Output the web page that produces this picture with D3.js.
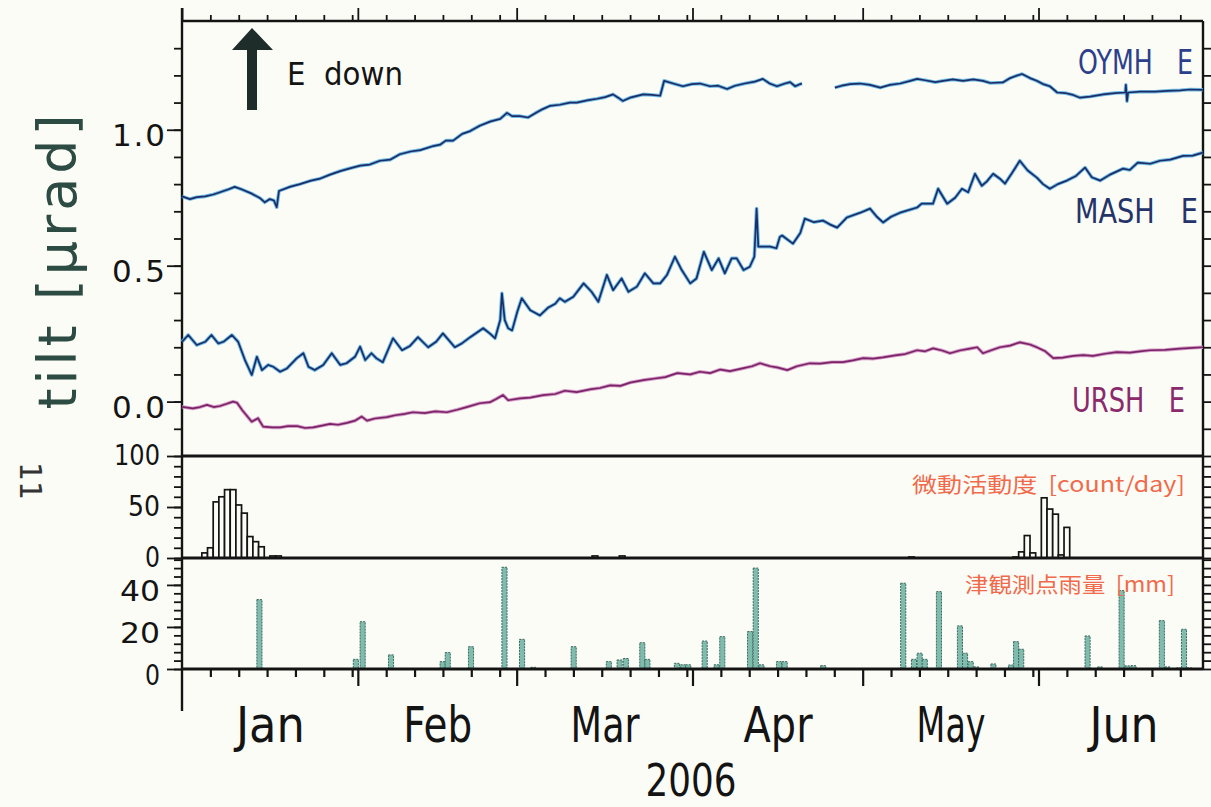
<!DOCTYPE html>
<html><head><meta charset="utf-8">
<script src="https://cdn.jsdelivr.net/npm/d3@7"></script>
<style>
html,body{margin:0;padding:0;background:#fcfcf6;}
svg{display:block;}
</style></head><body>
<svg id="chart" width="1211" height="807"></svg>
<script>
// ---------- data (day offsets from 2006-01-01 00:00 UTC) ----------
const oymhDays = [0,1.4,2.6,4.1,5.5,6.7,8.1,9.3,10.6,12.3,13.8,14.6,15.5,16.2,16.7,17.1,19.0,20.8,22.6,24.3,26.1,27.9,29.6,31.4,33.1,34.9,36.7,38.4,40.3,42.0,44.3,45.5,46.5,47.8,49.4,50.8,52.5,54.3,56.1,57.3,58.2,59.6,61.0,62.2,63.5,64.9,66.6,68.4,69.6,71.4,73.2,74.6,76.0,76.9,77.7,79.0,81.3,82.9,84.3,85.0,86.6,88.3,89.9,91.3,93.1,94.5,96.1,97.5,99.2,101.0,102.4,103.6,104.9,106.3,107.2,108.1,109.0,109.3,112,115.1,116.3,117.8,119.5,121.3,123.1,124.8,126.6,128.4,129.6,131.0,132.8,134.2,135.9,137.7,139.5,141.2,142.5,144.7,146.0,147.0,148.1,149.5,150.7,151.8,153.0,154.3,155.7,157.1,158.3,160.1,162.4,164.5,166.3,166.4,166.6,166.8,168.9,171.5,173.7,176.0,177.7,180];
const oymhVals = [0.755,0.745,0.752,0.755,0.762,0.77,0.78,0.79,0.78,0.765,0.748,0.733,0.745,0.74,0.715,0.775,0.79,0.80,0.812,0.82,0.835,0.848,0.858,0.868,0.872,0.886,0.89,0.91,0.92,0.925,0.94,0.945,0.96,0.96,0.985,0.995,1.015,1.03,1.04,1.062,1.05,1.05,1.045,1.06,1.075,1.088,1.092,1.10,1.10,1.108,1.114,1.12,1.13,1.118,1.106,1.118,1.13,1.128,1.125,1.18,1.17,1.16,1.168,1.17,1.16,1.162,1.15,1.162,1.17,1.177,1.187,1.17,1.16,1.17,1.175,1.16,1.168,1.17,null,1.155,1.162,1.168,1.17,1.165,1.155,1.165,1.17,1.18,1.187,1.182,1.175,1.18,1.185,1.18,1.185,1.18,1.172,1.174,1.19,1.198,1.205,1.19,1.18,1.168,1.16,1.137,1.135,1.128,1.118,1.122,1.13,1.135,1.137,1.165,1.105,1.137,1.14,1.14,1.143,1.145,1.148,1.147];

const mashDays = [0,1.1,2.6,4.1,5.2,6.4,7.3,8.8,9.9,11.1,12.3,13.2,14.1,15.2,16.1,17.3,18.5,20.2,21.4,22.3,23.4,24.9,26.4,27.9,29.0,30.5,31.4,32.3,33.4,34.3,35.4,37.2,38.8,40.2,41.6,43.4,44.8,46.0,48.1,49.4,50.8,53.1,54.3,55.2,56.1,56.4,56.9,57.5,58.2,59.1,59.9,61.4,62.4,63.1,64.5,65.8,66.6,67.5,69.0,70.8,72.2,73.4,74.9,76.0,77.5,78.7,80.2,81.6,83.1,84.3,85.5,86.9,88.1,89.6,90.7,92.0,93.4,94.6,95.7,96.9,97.8,99.0,100.1,100.9,101.3,101.6,103.7,104.8,105.4,105.8,107.7,109.0,109.8,111.4,113.0,114.2,115.5,117.2,119.6,121.3,122.5,123.6,125.0,126.6,129.6,130.4,132.4,133.3,134.9,136.3,137.5,138.6,139.8,141.0,141.9,143.0,144.2,145.1,146.3,147.7,149.1,150.7,151.8,153.0,154.4,156.0,157.6,159.2,160.4,161.9,163.6,165.9,167.1,168.5,170.7,172.4,174.2,176.5,178.2,180];
const mashVals = [0.22,0.245,0.208,0.22,0.245,0.214,0.22,0.245,0.22,0.153,0.098,0.165,0.116,0.135,0.128,0.11,0.122,0.159,0.178,0.128,0.116,0.135,0.178,0.135,0.141,0.165,0.202,0.153,0.178,0.159,0.145,0.233,0.189,0.205,0.237,0.2,0.22,0.251,0.2,0.215,0.237,0.27,0.25,0.233,0.30,0.398,0.30,0.27,0.262,0.33,0.38,0.336,0.325,0.317,0.345,0.36,0.38,0.367,0.386,0.435,0.404,0.367,0.466,0.41,0.453,0.404,0.423,0.472,0.435,0.435,0.466,0.533,0.484,0.435,0.453,0.551,0.484,0.527,0.472,0.527,0.527,0.484,0.496,0.533,0.71,0.57,0.57,0.564,0.606,0.611,0.581,0.62,0.673,0.66,0.666,0.652,0.64,0.677,0.695,0.71,0.68,0.659,0.68,0.695,0.714,0.728,0.728,0.783,0.728,0.75,0.783,0.77,0.838,0.794,0.81,0.838,0.82,0.802,0.84,0.886,0.85,0.824,0.80,0.783,0.80,0.813,0.83,0.861,0.825,0.813,0.835,0.857,0.852,0.879,0.875,0.886,0.89,0.904,0.905,0.916];

const urshDays = [0,1.9,3.2,4.4,5.6,6.7,7.9,9.0,9.7,10.6,12.3,13.4,14.3,15.9,17.3,18.7,20.3,21.7,23.1,24.7,26.1,27.5,29.1,30.5,31.7,32.6,34.0,36.1,37.6,39.3,40.7,42.8,44.6,46.7,48.5,50.2,52.5,54.3,55.4,56.6,57.5,59.6,61.4,63.7,65.8,67.5,69.6,71.9,73.7,75.5,77.3,79.0,81.3,83.4,85.2,87.3,89.6,91.3,93.1,94.9,96.6,99.0,100.5,101.9,103.7,105.1,106.7,108.4,110.7,112.5,114.6,116.5,118.3,120.1,121.8,123.6,125.7,127.5,129.6,131.0,132.4,134.0,135.4,137.1,138.9,140.2,141.2,142.8,144.2,146.0,147.7,149.5,150.7,152.2,153.6,155.3,157.1,158.9,160.6,162.7,164.8,167.1,168.9,170.7,173.3,176.0,178.2,180];
const urshVals = [-0.019,-0.025,-0.02,-0.012,-0.02,-0.016,-0.008,0.0,-0.004,-0.031,-0.074,-0.061,-0.092,-0.095,-0.095,-0.09,-0.09,-0.097,-0.095,-0.088,-0.082,-0.085,-0.078,-0.07,-0.055,-0.07,-0.062,-0.057,-0.05,-0.045,-0.039,-0.042,-0.036,-0.039,-0.03,-0.02,-0.006,-0.002,0.01,0.024,0.005,0.012,0.015,0.024,0.028,0.04,0.035,0.045,0.05,0.06,0.058,0.07,0.079,0.085,0.09,0.105,0.1,0.11,0.105,0.118,0.112,0.123,0.13,0.141,0.13,0.125,0.116,0.13,0.141,0.14,0.145,0.145,0.152,0.16,0.158,0.163,0.17,0.175,0.189,0.185,0.196,0.188,0.178,0.188,0.195,0.2,0.178,0.19,0.2,0.206,0.218,0.21,0.2,0.185,0.16,0.162,0.168,0.171,0.168,0.176,0.182,0.18,0.185,0.189,0.19,0.195,0.198,0.2];

const tremorDays = [3.5,4.5,5.5,6.5,7.5,8.5,9.5,10.5,11.5,12.5,13.5,15.5,16.5,72.3,77.1,128.1,146.5,147.5,148.5,149.5,151.5,152.5,153.5,154.5,155.5];
const tremorCounts = [5,10,55,60,67,67,52,44,21,16,11,2,2,2,2,1,1,6,22,5,59,48,43,3,30];

const rainDays = [13.2,30.2,31.4,36.4,45.5,46.4,50.5,56.4,59.5,61.5,68.6,74.8,76.7,77.8,80.7,81.6,86.8,87.9,88.8,91.7,93.8,94.8,99.7,100.7,101.7,104.8,105.8,112.6,126.7,128.6,129.6,130.5,133,136.7,137.6,138.6,139.6,142.6,145.7,146.6,147.5,159.2,161.4,165.2,166.2,167.3,172.3,173.3,175.3,176.2,177.2];
const rainMm = [33,4.6,22.5,6.7,3.5,7.8,10.6,48.4,14.1,0.8,10.6,3.5,4.3,5,12.5,4.6,2.7,2,2,13.3,2,15.4,17.8,48,2,3.5,3.5,1.6,40.8,4.6,7.5,4.6,36.8,20.5,7.5,3.5,1,2.4,1.9,13,9.4,15.7,1,37.3,1.5,1.6,23,1,0.5,18.9,0.5];

const monthLabels = ["Jan","Feb","Mar","Apr","May","Jun"];
const tiltTickLabels = [0.0,0.5,1.0];
const countTickLabels = [0,50,100];
const rainTickLabels = [0,20,40];
const seriesNames = ["OYMH","MASH","URSH"];

// ---------- layout ----------
const START = Date.UTC(2006,0,1);
const toDate = d => new Date(START + d*864e5);
const L=182, R=1203, T=21;
const yTiltB=456, yMidB=558, yRainB=669;
const FONT = "'DejaVu Sans','Liberation Sans',Arial,sans-serif";
const CJK = "'Noto Sans CJK JP','Noto Sans CJK SC',sans-serif";
const INK = "#141414";

const svg = d3.select("#chart");
svg.append("rect").attr("width",1211).attr("height",807).attr("fill","#fcfcf6");

const x = d3.scaleUtc().domain([toDate(0), toDate(180)]).range([L,R]);
const yT = d3.scaleLinear().domain([-0.2,1.4]).range([yTiltB,T]);
const yM = d3.scaleLinear().domain([0,100]).range([yMidB,yTiltB]);
const yR = d3.scaleLinear().domain([0,52.8]).range([yRainB,yMidB]);

// condensed text: measured and squeezed horizontally with a transform
function condensed(txt, xx, yy, size, width, fill, family, anchor){
  const t = svg.append("text").attr("font-family",family).attr("font-size",size).attr("fill",fill)
    .attr("xml:space","preserve").style("white-space","pre").text(txt);
  const w = t.node().getComputedTextLength();
  const x0 = anchor==="middle" ? xx - width/2 : xx;
  t.attr("transform",`translate(${x0},${yy}) scale(${width/w},1)`);
  return t;
}

// x ticks
const monthStarts = d3.utcMonth.range(toDate(0), toDate(180.5));
const minorX = [];
monthStarts.forEach(m => {
  [6,11,16,21,26,31].forEach(dd => {
    const t = new Date(Date.UTC(2006, m.getUTCMonth(), dd));
    if (t.getUTCMonth()===m.getUTCMonth() && t < toDate(180)) minorX.push(t);
  });
});
const midMonths = monthStarts.map(m => new Date((+m + +d3.utcMonth.offset(m,1))/2));

function styleAxis(g, w){
  g.select(".domain").remove();
  g.selectAll(".tick line").attr("stroke",INK).attr("stroke-width",w||1.8);
}
// top axis
svg.append("g").attr("transform",`translate(0,${T})`)
  .call(d3.axisTop(x).tickValues(minorX).tickSize(6).tickFormat(""))
  .call(g=>styleAxis(g));
svg.append("g").attr("transform",`translate(0,${T})`)
  .call(d3.axisTop(x).tickValues(monthStarts).tickSize(13).tickFormat(""))
  .call(g=>styleAxis(g));
// bottom axis
svg.append("g").attr("transform",`translate(0,${yRainB})`)
  .call(d3.axisBottom(x).tickValues(minorX).tickSize(8).tickFormat(""))
  .call(g=>styleAxis(g,2.2));
svg.append("g").attr("transform",`translate(0,${yRainB})`)
  .call(d3.axisBottom(x).tickValues(monthStarts.slice(1)).tickSize(17).tickFormat(""))
  .call(g=>styleAxis(g,2.2));
// month labels
svg.append("g").attr("transform",`translate(0,${yRainB})`)
  .call(d3.axisBottom(x).tickValues(midMonths).tickSize(0).tickPadding(0).tickFormat((d,i)=>monthLabels[i]))
  .call(g=>{
    g.select(".domain").remove();
    g.selectAll("text").attr("dy",null).attr("y",73)
      .attr("font-family",FONT).attr("font-size",49).attr("fill",INK)
      .attr("textLength",69).attr("lengthAdjust","spacingAndGlyphs");
  });
condensed("2006", 691, 796, 45, 91, INK, FONT, "middle");

// left / right y axes
function yAxes(scale, minor, major, fmt, opts){
  svg.append("g").attr("transform",`translate(${L},0)`)
    .call(d3.axisLeft(scale).tickValues(minor).tickSize(8).tickFormat(""))
    .call(g=>styleAxis(g));
  svg.append("g").attr("transform",`translate(${L},0)`)
    .call(d3.axisLeft(scale).tickValues(major).tickSize(15).tickPadding(opts.pad).tickFormat(fmt))
    .call(g=>{
      styleAxis(g);
      g.selectAll("text").attr("font-family",FONT).attr("font-size",opts.size).attr("fill",INK)
        .attr("dy",opts.dy)
        .attr("textLength",function(){ return opts.len(this.textContent); })
        .attr("lengthAdjust",opts.adjust);
    });
  svg.append("g").attr("transform",`translate(${R},0)`)
    .call(d3.axisRight(scale).tickValues(minor).tickSize(8).tickFormat(""))
    .call(g=>styleAxis(g));
}
yAxes(yT, d3.range(-1,14).map(i=>i/10), tiltTickLabels, d3.format(".1f"),
  {pad:2, size:31, dy:"0.52em", adjust:"spacing", len:()=>53});
yAxes(yM, d3.range(0,101,10), countTickLabels, d3.format("d"),
  {pad:7, size:28, dy:"0.32em", adjust:"spacingAndGlyphs", len:t=>({1:15,2:32,3:46})[t.length]});
yAxes(yR, d3.range(0,53,4), rainTickLabels, d3.format("d"),
  {pad:7, size:28, dy:"0.56em", adjust:"spacingAndGlyphs", len:t=>({1:15,2:40,3:46})[t.length]});

// frame
const frame = svg.append("g").attr("stroke",INK).attr("fill","none");
frame.append("line").attr("x1",L).attr("x2",R).attr("y1",T).attr("y2",T).attr("stroke-width",2.4);
frame.append("line").attr("x1",L).attr("x2",L).attr("y1",8).attr("y2",711).attr("stroke-width",2.4);
frame.append("line").attr("x1",R).attr("x2",R).attr("y1",T).attr("y2",yRainB).attr("stroke-width",2.4);
frame.append("line").attr("x1",L).attr("x2",R).attr("y1",yTiltB).attr("y2",yTiltB).attr("stroke-width",3);

// tilt lines
const line = d3.line().defined(d=>d.v!=null).x(d=>x(toDate(d.d))).y(d=>yT(d.v));
const pts = (days, vals) => days.map((d,i)=>({d:d, v:vals[i]}));
const series = [
  {data:pts(oymhDays,oymhVals), under:"#58b2e2", over:"#1d2d68"},
  {data:pts(mashDays,mashVals), under:"#58b2e2", over:"#1d2d68"},
  {data:pts(urshDays,urshVals), under:"#d08cc0", over:"#7a2468"}
];
series.forEach(s=>{
  svg.append("path").attr("d",line(s.data)).attr("fill","none").attr("stroke",s.under)
    .attr("stroke-width",3.6).attr("stroke-linejoin","round").attr("opacity",0.85);
  svg.append("path").attr("d",line(s.data)).attr("fill","none").attr("stroke",s.over)
    .attr("stroke-width",1.7).attr("stroke-linejoin","round");
});

// tremor bars
svg.append("g").selectAll("rect").data(tremorDays).join("rect")
  .attr("x",d=>x(toDate(d)))
  .attr("width",d=>x(toDate(d+1))-x(toDate(d)))
  .attr("y",(d,i)=>yM(tremorCounts[i]))
  .attr("height",(d,i)=>yM(0)-yM(tremorCounts[i]))
  .attr("fill","#fcfcf6").attr("stroke",INK).attr("stroke-width",1.7);

// rain bars
svg.append("g").selectAll("rect").data(rainDays).join("rect")
  .attr("x",d=>x(toDate(d)))
  .attr("width",d=>x(toDate(d+0.9))-x(toDate(d)))
  .attr("y",(d,i)=>yR(rainMm[i]))
  .attr("height",(d,i)=>yR(0)-yR(rainMm[i]))
  .attr("fill","#80bcae").attr("stroke","#3a6a5f").attr("stroke-width",1)
  .attr("stroke-dasharray","2,1");

// baselines over bars
[yMidB,yRainB].forEach(yy=>{
  svg.append("line").attr("x1",L).attr("x2",R).attr("y1",yy).attr("y2",yy).attr("stroke",INK).attr("stroke-width",3);
});

// series labels
condensed(seriesNames[0]+"   E", 1078, 74, 33, 115, "#2b3f8c", FONT);
condensed(seriesNames[1]+"   E", 1075, 223, 33, 123, "#24346a", FONT);
condensed(seriesNames[2]+"   E", 1072, 412, 33, 113, "#8a2a6c", FONT);

// panel labels
condensed("微動活動度  [count/day]", 912, 492, 21, 273, "#f06a4c", CJK);
condensed("津観測点雨量  [mm]", 965, 592, 21, 210, "#f06a4c", CJK);

// arrow + E down
svg.append("path").attr("d","M232,50 L252,28 L273,50 L257,50 L257,110 L247,110 L247,50 Z").attr("fill","#1f2d2a");
condensed("E  down", 287, 85, 32, 116, INK, FONT);

// y axis title
svg.append("text").attr("transform","translate(76,262) rotate(-90)").attr("text-anchor","middle")
  .attr("font-family",FONT).attr("font-size",54).attr("fill","#2c4b43")
  .attr("textLength",295).attr("lengthAdjust","spacing").text("tilt [μrad]");
svg.append("text").attr("transform","translate(20,481) rotate(90)").attr("text-anchor","middle")
  .attr("font-family",FONT).attr("font-size",30).attr("fill","#333").text("11");
</script>
</body></html>
